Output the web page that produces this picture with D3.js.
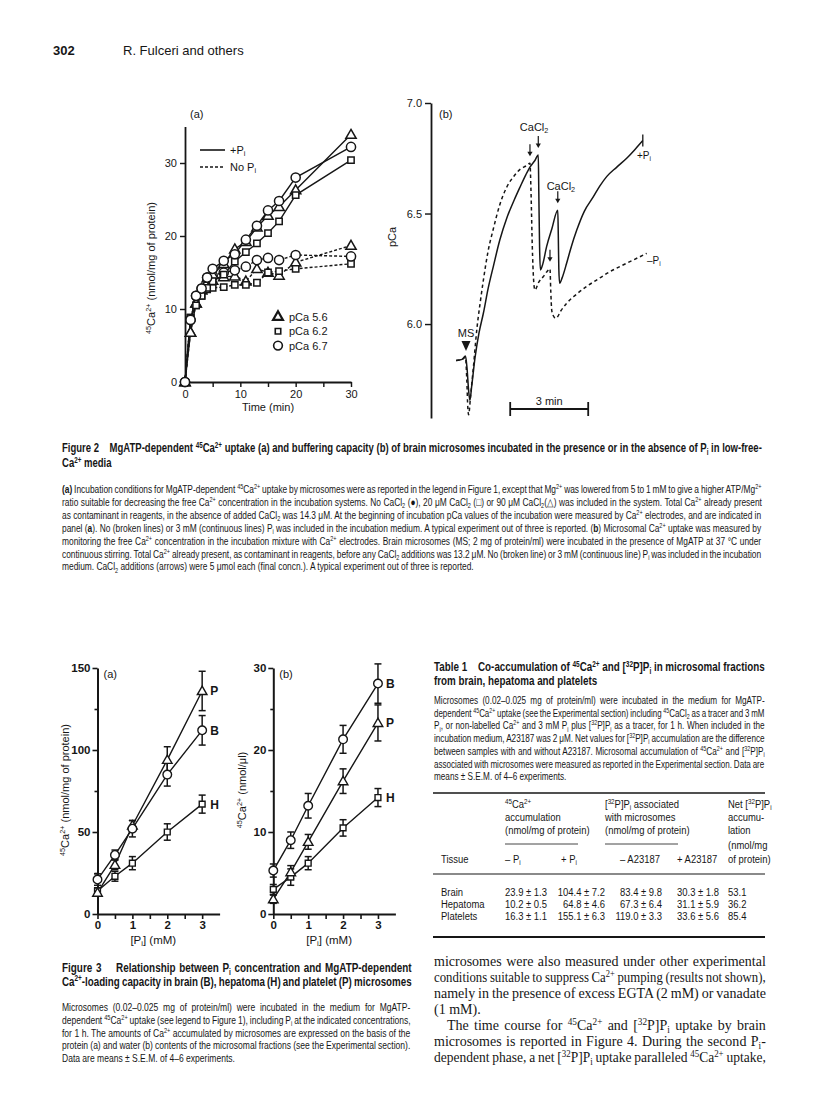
<!DOCTYPE html>
<html><head><meta charset="utf-8">
<script src="https://cdn.jsdelivr.net/npm/d3@7"></script>
<style>body{margin:0;background:#fff} text{white-space:pre}</style>
</head><body>
<script>
// ================= DATA =================
// Figure 2(a): time course (min) and 45Ca2+ uptake (nmol/mg of protein)
const timeA = [0,1,2,3,4,5,7,9,11,13,15,17,20,30];
const pCa56_withPi = [0,6.8,10.8,12.6,14.2,14.7,16.2,18.2,19.2,21.2,22.8,24.0,26.3,33.9];
const pCa62_withPi = [0,8.8,10.5,11.8,12.9,13.8,14.7,16.5,17.8,19.0,20.4,22.0,25.6,30.4];
const pCa67_withPi = [0,8.5,11.8,12.8,14.3,15.5,16.6,17.5,19.5,21.4,23.5,24.8,28.0,32.2];
const pCa56_noPi   = [0,6.8,10.8,12.6,13.6,13.9,14.4,14.5,13.8,15.5,15.0,14.6,16.4,18.7];
const pCa62_noPi   = [0,8.8,10.5,11.8,12.7,12.9,13.0,13.3,13.3,13.6,15.0,15.2,15.5,16.2];
const pCa67_noPi   = [0,8.5,11.8,12.8,14.3,14.6,15.0,15.3,15.8,16.7,17.0,16.7,17.4,17.2];
const legendA = ["pCa 5.6","pCa 6.2","pCa 6.7"];
const yTicksA = [0,10,20,30];
const xTicksA = [0,5,10,15,20,25,30];

// Figure 2(b): pCa trace, time in min from MS addition
const traceWithPiT = [-0.38,-0.15,-0.02,0.04,0.1,0.15,0.22,0.35,0.5,0.67,0.85,1.05,1.3,1.57,1.85,2.08,2.3,2.46,2.65,2.78,2.8,2.83,2.86,2.95,3.1,3.3,3.53,3.55,3.57,3.6,3.7,3.87,4.05,4.26,4.55,4.9,5.15,5.41,5.8,6.18,6.5,6.8];
const traceWithPiV = [5.835,5.84,5.855,5.80,5.70,5.655,5.72,5.85,5.96,6.05,6.16,6.26,6.38,6.48,6.56,6.62,6.675,6.71,6.74,6.765,6.60,6.35,6.245,6.27,6.35,6.43,6.515,6.40,6.25,6.185,6.21,6.275,6.35,6.425,6.51,6.576,6.625,6.667,6.71,6.75,6.79,6.83];
const traceNoPiT = [-0.38,-0.15,-0.02,0.03,0.07,0.1,0.18,0.28,0.42,0.55,0.67,0.85,1.05,1.3,1.57,1.85,2.08,2.3,2.46,2.5,2.55,2.6,2.65,2.8,2.97,3.1,3.23,3.26,3.3,3.4,3.46,3.65,3.87,4.2,4.64,5.1,5.54,6.0,6.44,6.95];
const traceNoPiV = [5.835,5.84,5.85,5.75,5.62,5.59,5.68,5.80,5.98,6.10,6.20,6.33,6.43,6.54,6.62,6.67,6.70,6.715,6.727,6.60,6.35,6.2,6.154,6.19,6.214,6.235,6.25,6.15,6.06,6.03,6.026,6.06,6.094,6.13,6.17,6.205,6.237,6.265,6.29,6.32];
const additionT = [2.46,2.78,3.23,3.53];
const additionV = [6.727,6.765,6.25,6.515];
const yTicksB = [6.0,6.5,7.0];
const scaleBarStart = 1.7, scaleBarLen = 3;

// Figure 3: [Pi] (mM)
const piConc = [0,0.5,1,2,3];
const a_B = [21,36,52,85,112],  a_Berr = [3.5,3,5,7,9];
const a_P = [13,30,54,94,136],  a_Perr = [2,3,3,8,12];
const a_H = [14,23,31,50,67],   a_Herr = [2,3,4,5,5.5];
const b_B = [5.3,9.0,13.2,21.3,28.1], b_Berr = [0.8,1.0,1.5,1.7,2.4];
const b_P = [1.8,5.1,8.8,16.2,23.3],  b_Perr = [0.5,0.8,0.9,1.5,2.2];
const b_H = [3.0,4.5,6.2,10.5,14.2],  b_Herr = [0.6,1.0,0.8,1.0,1.1];
const xTicks3 = [0,0.5,1,1.5,2,2.5,3];
const yTicks3a = [0,25,50,75,100,125,150];
const yTicks3b = [0,5,10,15,20,25,30];

// Table 1
const tissues = ["Brain","Hepatoma","Platelets"];
const caMinusPi = ["23.9 ± 1.3","10.2 ± 0.5","16.3 ± 1.1"];
const caPlusPi  = ["104.4 ± 7.2","64.8 ± 4.6","155.1 ± 6.3"];
const pMinusA   = ["83.4 ± 9.8","67.3 ± 6.4","119.0 ± 3.3"];
const pPlusA    = ["30.3 ± 1.8","31.1 ± 5.9","33.6 ± 5.6"];
const netP      = ["53.1","36.2","85.4"];

// ================= DRAWING =================
const INK = "#161616";
const SANS = "'Liberation Sans', Arial, Helvetica, sans-serif";
const SERIF = "'Liberation Serif', 'Times New Roman', serif";
const svg = d3.select("body").append("svg").attr("width",816).attr("height",1099);
svg.append("rect").attr("width",816).attr("height",1099).attr("fill","#fff");

function rich(sel, str, fs){
  const parts = str.split(/(\^\{[^}]*\}|_\{[^}]*\}|\*\{[^}]*\})/g);
  let shift = 0;
  parts.forEach(p=>{
    if(!p) return;
    let type="n", txt=p;
    if(p.startsWith("^{")){type="sup";txt=p.slice(2,-1);}
    else if(p.startsWith("_{")){type="sub";txt=p.slice(2,-1);}
    else if(p.startsWith("*{")){type="b";txt=p.slice(2,-1);}
    const target = type==="sup"? -0.36*fs : type==="sub"? 0.2*fs : 0;
    const t = sel.append("tspan").attr("dy",(target-shift).toFixed(2)).text(txt);
    shift = target;
    if(type==="sup"||type==="sub") t.attr("font-size",fs*0.66);
    if(type==="b") t.attr("font-weight","bold");
  });
  return sel;
}
function label(g, x, y, str, o={}){
  const fs = o.size||11;
  const t = g.append("text").attr("x",x).attr("y",y).attr("font-family",o.family||SANS)
    .attr("font-size",fs).attr("fill",INK).attr("text-anchor",o.anchor||"start")
    .attr("font-weight",o.weight||"normal");
  if(o.rotate) t.attr("transform",`rotate(${o.rotate},${x},${y})`);
  rich(t,str,fs);
  return t;
}
function para(g, lines, o){
  const nj = new Set(o.nojust||[]);
  const items = lines.map((s,i)=>{
    const ind = (o.indent && o.indent[i])||0;
    const t = g.append("text").attr("font-family",o.family).attr("font-size",o.size)
      .attr("font-weight",o.weight||"normal").attr("fill",INK);
    rich(t,s,o.size);
    const w = t.node().getComputedTextLength();
    const ns = (t.text().match(/ /g)||[]).length;
    const j = o.nojust ? !nj.has(i) : ((i<lines.length-1)||o.justifyLast);
    return {t,w,ns,ind,j, y:o.y+i*o.lh};
  });
  let c = o.scale;
  if(!c){
    const rs = items.filter(d=>d.j).map(d=>(o.w-d.ind)/d.w);
    c = d3.median(rs); if(c>(o.maxScale||1)) c=(o.maxScale||1);
  }
  items.forEach(d=>{
    let ws = 0, cc = c;
    if(d.j && d.ns>0){
      ws = ((o.w-d.ind)/cc - d.w)/d.ns;
      if(ws < -0.6){ ws = -0.6; cc = (o.w-d.ind)/(d.w + ws*d.ns); }
    }
    d.t.attr("transform",`translate(${o.x+d.ind},${d.y}) scale(${cc},1)`).style("word-spacing",ws+"px");
  });
}
function styleAxis(g, fs, sw){
  g.select(".domain").attr("stroke",INK).attr("stroke-width",sw);
  g.selectAll(".tick line").attr("stroke",INK).attr("stroke-width",sw*0.8);
  g.selectAll(".tick text").attr("font-family",SANS).attr("font-size",fs).attr("fill",INK);
}

// ---------- Page header ----------
label(svg,53,55,"302",{size:13,weight:"bold"});
label(svg,123,55,"R. Fulceri and others",{size:13});

// ---------- Figure 2(a) ----------
{
  const g = svg.append("g");
  const x = d3.scaleLinear().domain([0,30]).range([185,351]);
  const y = d3.scaleLinear().domain([0,35]).range([382,126.5]);
  const xa = g.append("g").attr("transform","translate(0,382)")
    .call(d3.axisBottom(x).tickValues(xTicksA).tickFormat(d=>d%10===0?d:"").tickSize(5).tickSizeOuter(0).tickPadding(3));
  styleAxis(xa,11,1.8);
  const ya = g.append("g").attr("transform","translate(185,0)")
    .call(d3.axisLeft(y).tickValues(yTicksA).tickSize(5).tickSizeOuter(0).tickPadding(3));
  styleAxis(ya,11,1.8);
  label(g,268,411,"Time (min)",{anchor:"middle",size:11});
  label(g,155,268,"^{45}Ca^{2+} (nmol/mg of protein)",{anchor:"middle",size:11,rotate:-90});
  label(g,190,118,"(a)",{size:11});

  const series = [
    {v:pCa56_noPi, s:d3.symbolTriangle, dash:true},
    {v:pCa62_noPi, s:d3.symbolSquare, dash:true},
    {v:pCa67_noPi, s:d3.symbolCircle, dash:true},
    {v:pCa56_withPi, s:d3.symbolTriangle, dash:false},
    {v:pCa62_withPi, s:d3.symbolSquare, dash:false},
    {v:pCa67_withPi, s:d3.symbolCircle, dash:false}
  ];
  const sizes = new Map([[d3.symbolTriangle,46],[d3.symbolSquare,40],[d3.symbolCircle,66]]);
  const line = d3.line().x((d,i)=>x(timeA[i])).y(d=>y(d));
  series.forEach(s=>{
    g.append("path").attr("d",line(s.v)).attr("fill","none").attr("stroke",INK)
      .attr("stroke-width",1.4).attr("stroke-dasharray",s.dash?"3,2":null);
  });
  series.forEach(s=>{
    g.selectAll(null).data(s.v).enter().append("path")
      .attr("d",d3.symbol().type(s.s).size(sizes.get(s.s)))
      .attr("transform",(d,i)=>`translate(${x(timeA[i])},${y(d)+(s.s===d3.symbolTriangle?0.8:0)})`)
      .attr("fill","#fff").attr("stroke",INK).attr("stroke-width",1.5);
  });
  // legend: line styles
  g.append("line").attr("x1",200).attr("x2",225).attr("y1",150).attr("y2",150).attr("stroke",INK).attr("stroke-width",1.6);
  g.append("line").attr("x1",200).attr("x2",225).attr("y1",167).attr("y2",167).attr("stroke",INK).attr("stroke-width",1.6).attr("stroke-dasharray","3,2");
  label(g,230,154,"+P_{i}",{size:11});
  label(g,230,171,"No P_{i}",{size:11});
  // legend: symbols
  const lsym = [d3.symbolTriangle,d3.symbolSquare,d3.symbolCircle];
  legendA.forEach((t,i)=>{
    const yy = 317+i*14.3;
    g.append("path").attr("d",d3.symbol().type(lsym[i]).size(i===1?30:(i===0?42:60)))
      .attr("transform",`translate(278,${yy})`).attr("fill","#fff").attr("stroke",INK).attr("stroke-width",i===0?2.2:1.6);
    label(g,289,yy+4,t,{size:11});
  });
}

// ---------- Figure 2(b) ----------
{
  const g = svg.append("g");
  const x = d3.scaleLinear().domain([0,3]).range([466,544]);
  const y = d3.scaleLinear().domain([5.575,7.0]).range([418,103]);
  const ya = g.append("g").attr("transform","translate(431,0)")
    .call(d3.axisLeft(y).tickValues(yTicksB).tickFormat(d3.format(".1f")).tickSize(6).tickSizeOuter(0).tickPadding(3));
  styleAxis(ya,11,1.8);
  label(g,396,237,"pCa",{anchor:"middle",size:11,rotate:-90});
  label(g,439,118,"(b)",{size:11});
  const line = d3.line().curve(d3.curveMonotoneX);
  g.append("path").attr("d",line(traceNoPiT.map((t,i)=>[x(t),y(traceNoPiV[i])])))
    .attr("fill","none").attr("stroke",INK).attr("stroke-width",1.5).attr("stroke-dasharray","3.5,3");
  g.append("path").attr("d",line(traceWithPiT.map((t,i)=>[x(t),y(traceWithPiV[i])])))
    .attr("fill","none").attr("stroke",INK).attr("stroke-width",1.5);
  // end tick of +Pi trace
  const ex = x(traceWithPiT[traceWithPiT.length-1]), ey = y(traceWithPiV[traceWithPiV.length-1]);
  g.append("line").attr("x1",ex).attr("x2",ex).attr("y1",ey-6).attr("y2",ey+6).attr("stroke",INK).attr("stroke-width",1.3);
  label(g,637,159,"+P_{i}",{size:10});
  label(g,647,264,"–P_{i}",{size:10});
  // CaCl2 arrows
  additionT.forEach((t,i)=>{
    const ax = x(t), tip = y(additionV[i]) - 7;
    g.append("line").attr("x1",ax).attr("x2",ax).attr("y1",tip-12).attr("y2",tip-3).attr("stroke",INK).attr("stroke-width",1.2);
    g.append("path").attr("d",`M${ax-2.6},${tip-4.5}L${ax+2.6},${tip-4.5}L${ax},${tip}Z`).attr("fill",INK);
  });
  label(g,x(2.62),131,"CaCl_{2}",{anchor:"middle",size:11});
  label(g,x(3.65),190,"CaCl_{2}",{anchor:"middle",size:11});
  // MS marker
  label(g,x(0),337,"MS",{anchor:"middle",size:11});
  g.append("path").attr("d",`M${x(0)-4.5},${341}L${x(0)+4.5},${341}L${x(0)},${351}Z`).attr("fill",INK);
  // scale bar
  const sx1 = x(scaleBarStart), sx2 = x(scaleBarStart+scaleBarLen);
  g.append("line").attr("x1",sx1).attr("x2",sx2).attr("y1",409).attr("y2",409).attr("stroke",INK).attr("stroke-width",1.8);
  [sx1,sx2].forEach(v=>g.append("line").attr("x1",v).attr("x2",v).attr("y1",402).attr("y2",416).attr("stroke",INK).attr("stroke-width",1.8));
  label(g,(sx1+sx2)/2,405,"3 min",{anchor:"middle",size:11});
}

// ---------- Figure 2 caption ----------
para(svg,[
  "Figure 2    MgATP-dependent ^{45}Ca^{2+} uptake (a) and buffering capacity (b) of brain microsomes incubated in the presence or in the absence of P_{i} in low-free-",
  "Ca^{2+} media"
],{x:62,y:452,lh:15,w:700,size:12.5,weight:"bold",family:SANS});
para(svg,[
  "*{(a)} Incubation conditions for MgATP-dependent ^{45}Ca^{2+} uptake by microsomes were as reported in the legend in Figure 1, except that Mg^{2+} was lowered from 5 to 1 mM to give a higher ATP/Mg^{2+}",
  "ratio suitable for decreasing the free Ca^{2+} concentration in the incubation systems. No CaCl_{2} (●), 20 μM CaCl_{2} (□) or 90 μM CaCl_{2}(△) was included in the system. Total Ca^{2+} already present",
  "as contaminant in reagents, in the absence of added CaCl_{2} was 14.3 μM. At the beginning of incubation pCa values of the incubation were measured by Ca^{2+} electrodes, and are indicated in",
  "panel (*{a}). No (broken lines) or 3 mM (continuous lines) P_{i} was included in the incubation medium. A typical experiment out of three is reported. (*{b}) Microsomal Ca^{2+} uptake was measured by",
  "monitoring the free Ca^{2+} concentration in the incubation mixture with Ca^{2+} electrodes. Brain microsomes (MS; 2 mg of protein/ml) were incubated in the presence of MgATP at 37 °C under",
  "continuous stirring. Total Ca^{2+} already present, as contaminant in reagents, before any CaCl_{2} additions was 13.2 μM. No (broken line) or 3 mM (continuous line) P_{i} was included in the incubation",
  "medium. CaCl_{2} additions (arrows) were 5 μmol each (final concn.). A typical experiment out of three is reported."
],{x:62,y:493,lh:12.9,w:700,size:11,family:SANS});

// ---------- Figure 3 panels ----------
function fig3(xr, ydom, ticksY, B, Be, P, Pe, Hh, He, tag, ylab, ylabX){
  const g = svg.append("g");
  const x = d3.scaleLinear().domain([0,3.5]).range(xr);
  const y = d3.scaleLinear().domain(ydom).range([914,668]);
  const xa = g.append("g").attr("transform","translate(0,914)")
    .call(d3.axisBottom(x).tickValues(xTicks3).tickFormat(d=>Number.isInteger(d)?d:"").tickSize(5).tickSizeOuter(0).tickPadding(2));
  styleAxis(xa,11.5,2);
  xa.selectAll(".tick text").attr("font-weight","bold");
  const ya = g.append("g").attr("transform",`translate(${xr[0]},0)`)
    .call(d3.axisLeft(y).tickValues(ticksY).tickFormat((d,i)=>i%2===0?d:"").tickSize(5).tickSizeOuter(0).tickPadding(2));
  styleAxis(ya,11.5,2);
  ya.selectAll(".tick text").attr("font-weight","bold");
  ya.selectAll(".tick").filter((d,i)=>i%2===1).select("line").attr("x2",-3);
  label(g,(xr[0]+x(3.2))/2,944,"[P_{i}] (mM)",{anchor:"middle",size:11.5});
  label(g,ylabX,790,ylab,{anchor:"middle",size:11,rotate:-90});
  label(g,xr[0]+6,678,tag,{size:11});
  const sets = [
    {v:Hh,e:He,s:d3.symbolSquare,sz:34,name:"H"},
    {v:P,e:Pe,s:d3.symbolTriangle,sz:40,name:"P"},
    {v:B,e:Be,s:d3.symbolCircle,sz:58,name:"B"}
  ];
  const line = d3.line().x((d,i)=>x(piConc[i])).y(d=>y(d));
  sets.forEach(s=>{
    g.append("path").attr("d",line(s.v)).attr("fill","none").attr("stroke",INK).attr("stroke-width",1.4);
  });
  sets.forEach(s=>{
    s.v.forEach((v,i)=>{
      const cx = x(piConc[i]);
      const y1 = y(v-s.e[i]), y2 = y(v+s.e[i]);
      g.append("line").attr("x1",cx).attr("x2",cx).attr("y1",y1).attr("y2",y2).attr("stroke",INK).attr("stroke-width",1.5);
      [y1,y2].forEach(yy=>g.append("line").attr("x1",cx-3.5).attr("x2",cx+3.5).attr("y1",yy).attr("y2",yy).attr("stroke",INK).attr("stroke-width",1.5));
    });
  });
  sets.forEach(s=>{
    g.selectAll(null).data(s.v).enter().append("path")
      .attr("d",d3.symbol().type(s.s).size(s.sz))
      .attr("transform",(d,i)=>`translate(${x(piConc[i])},${y(d)+(s.s===d3.symbolTriangle?0.8:0)})`)
      .attr("fill","#fff").attr("stroke",INK).attr("stroke-width",1.4);
    label(g,x(3)+8,y(s.v[s.v.length-1])+4.5,s.name,{size:12,weight:"bold"});
  });
}
fig3([97.5,219.6],[0,150],yTicks3a,a_B,a_Berr,a_P,a_Perr,a_H,a_Herr,"(a)","^{45}Ca^{2+} (nmol/mg of protein)",69);
fig3([273.3,395.4],[0,30],yTicks3b,b_B,b_Berr,b_P,b_Perr,b_H,b_Herr,"(b)","^{45}Ca^{2+} (nmol/μl)",246);

// ---------- Figure 3 caption ----------
para(svg,[
  "Figure 3    Relationship between P_{i} concentration and MgATP-dependent",
  "Ca^{2+}-loading capacity in brain (B), hepatoma (H) and platelet (P) microsomes"
],{x:62,y:972,lh:13.5,w:350,size:12.5,weight:"bold",family:SANS,justifyLast:true});
para(svg,[
  "Microsomes (0.02–0.025 mg of protein/ml) were incubated in the medium for MgATP-",
  "dependent ^{45}Ca^{2+} uptake (see legend to Figure 1), including P_{i} at the indicated concentrations,",
  "for 1 h. The amounts of Ca^{2+} accumulated by microsomes are expressed on the basis of the",
  "protein (a) and water (b) contents of the microsomal fractions (see the Experimental section).",
  "Data are means ± S.E.M. of 4–6 experiments."
],{x:62,y:1011,lh:12.8,w:349,size:11,family:SANS});

// ---------- Table 1 ----------
para(svg,[
  "Table 1    Co-accumulation of ^{45}Ca^{2+} and [^{32}P]P_{i} in microsomal fractions",
  "from brain, hepatoma and platelets"
],{x:434,y:671,lh:13.5,w:331,size:12.5,weight:"bold",family:SANS});
para(svg,[
  "Microsomes (0.02–0.025 mg of protein/ml) were incubated in the medium for MgATP-",
  "dependent ^{45}Ca^{2+} uptake (see the Experimental section) including ^{45}CaCl_{2} as a tracer and 3 mM",
  "P_{i}, or non-labelled Ca^{2+} and 3 mM P_{i} plus [^{32}P]P_{i} as a tracer, for 1 h. When included in the",
  "incubation medium, A23187 was 2 μM. Net values for [^{32}P]P_{i} accumulation are the difference",
  "between samples with and without A23187. Microsomal accumulation of ^{45}Ca^{2+} and [^{32}P]P_{i}",
  "associated with microsomes were measured as reported in the Experimental section. Data are",
  "means ± S.E.M. of 4–6 experiments."
],{x:434,y:704,lh:12.7,w:331,size:11,family:SANS});
{
  const g = svg.append("g");
  const tc = (x,y,s,anchor)=>{
    const t = g.append("text").attr("font-family",SANS).attr("font-size",11).attr("fill",INK)
      .attr("text-anchor",anchor||"start").attr("transform",`translate(${x},${y}) scale(0.86,1)`);
    rich(t,s,11);
  };
  const rule = (x1,x2,y,w)=>g.append("line").attr("x1",x1).attr("x2",x2).attr("y1",y).attr("y2",y).attr("stroke",INK).attr("stroke-width",w);
  rule(433,765,793,1.3);
  tc(505,808,"^{45}Ca^{2+}"); tc(505,821,"accumulation"); tc(505,834,"(nmol/mg of protein)");
  tc(605,808,"[^{32}P]P_{i} associated"); tc(605,821,"with microsomes"); tc(605,834,"(nmol/mg of protein)");
  tc(728,808,"Net [^{32}P]P_{i}"); tc(728,821,"accumu-"); tc(728,834,"lation"); tc(728,849,"(nmol/mg"); tc(728,863,"of protein)");
  rule(505,578,844,0.8); rule(605,678,844,0.8);
  tc(441,863,"Tissue"); tc(505,863,"– P_{i}"); tc(561,863,"+ P_{i}"); tc(620,863,"– A23187"); tc(677,863,"+ A23187");
  rule(433,765,874,1.1);
  tissues.forEach((t,i)=>{
    const yy = 895.5+i*12.3;
    tc(441,yy,t);
    tc(505,yy,caMinusPi[i]);
    tc(605,yy,caPlusPi[i],"end");
    tc(662,yy,pMinusA[i],"end");
    tc(677,yy,pPlusA[i]);
    tc(728,yy,netP[i]);
  });
  rule(433,765,937,2.2);
}

// ---------- Body text ----------
para(svg,[
  "microsomes were also measured under other experimental",
  "conditions suitable to suppress Ca^{2+} pumping (results not shown),",
  "namely in the presence of excess EGTA (2 mM) or vanadate",
  "(1 mM).",
  "The time course for ^{45}Ca^{2+} and [^{32}P]P_{i} uptake by brain",
  "microsomes is reported in Figure 4. During the second P_{i}-",
  "dependent phase, a net [^{32}P]P_{i} uptake paralleled ^{45}Ca^{2+} uptake,"
],{x:434,y:966,lh:16,w:332,size:14.5,family:SERIF,indent:[0,0,0,0,13,0,0],nojust:[3]});
</script>
</body></html>
